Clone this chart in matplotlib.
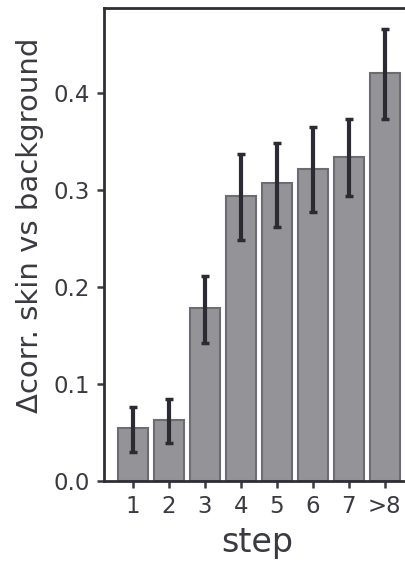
import matplotlib.pyplot as plt
import numpy as np

steps = ['1', '2', '3', '4', '5', '6', '7', '>8']
delta_corr = [0.055, 0.063, 0.178, 0.294, 0.307, 0.322, 0.334, 0.421]
ci_low = [0.030, 0.039, 0.142, 0.249, 0.262, 0.278, 0.294, 0.374]
ci_high = [0.076, 0.085, 0.211, 0.337, 0.349, 0.365, 0.374, 0.466]

plt.rcParams['font.family'] = 'DejaVu Sans'

fig = plt.figure(figsize=(4.06, 5.65), dpi=100)
ax = fig.add_axes([0.256, 0.1487, 0.754, 0.8371])

x = np.arange(len(steps))
vals = np.array(delta_corr)
yerr = [vals - np.array(ci_low), np.array(ci_high) - vals]

ax.bar(x, vals, width=0.84, color='#939398', edgecolor='#6c6c72', linewidth=1.5)
ax.errorbar(x, vals, yerr=yerr, fmt='none', ecolor='#2a2b33', elinewidth=3.0,
            capsize=2.8, capthick=2.5)

ax.set_xlim(-0.8, 7.7)
ax.set_ylim(0, 0.488)
ax.set_xticks(x)
ax.set_xticklabels(steps)
ax.set_yticks([0.0, 0.1, 0.2, 0.3, 0.4])
ax.set_yticklabels(['0.0', '0.1', '0.2', '0.3', '0.4'])

for side in ['left', 'top', 'bottom', 'right']:
    ax.spines[side].set_color('#2e2f36')
    ax.spines[side].set_linewidth(2)

ax.tick_params(axis='both', labelsize=16.5, colors='#3a3b42', length=5, width=1.8, pad=5)
ax.set_xlabel('step', fontsize=24, color='#3a3b42', labelpad=6)
ax.set_ylabel('Δcorr. skin vs background', fontsize=21, color='#3a3b42', labelpad=7)
ax.yaxis.label.set_y(0.54)

fig.savefig('out.png', dpi=100)
